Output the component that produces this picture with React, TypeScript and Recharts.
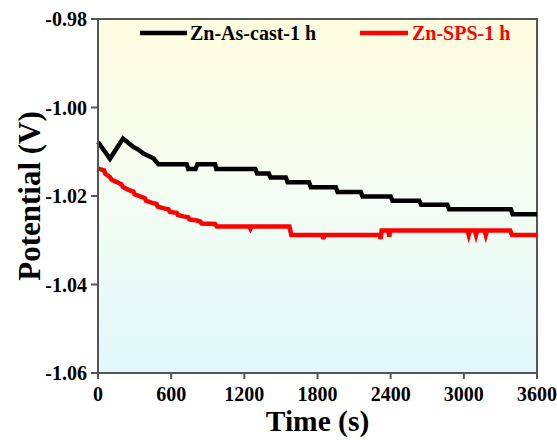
import React from "react";
import { LineChart, Line, XAxis, YAxis, ReferenceArea } from "recharts";

// Zn-As-cast-1 h (black)
const asCastTime = [
  0, 98, 205, 250, 290, 330, 372, 420, 454, 495, 727, 740, 800, 815, 960, 970,
  1290, 1305, 1400, 1415, 1540, 1555, 1730, 1745, 1950, 1965, 2155, 2170, 2400,
  2415, 2635, 2650, 2865, 2880, 3385, 3400, 3600,
];
const asCastPotential = [
  -1.0078, -1.0116, -1.007, -1.008, -1.0089, -1.0095, -1.0104, -1.011, -1.0115,
  -1.0128, -1.0128, -1.0139, -1.0139, -1.0128, -1.0128, -1.0139, -1.0139,
  -1.0149, -1.0149, -1.0158, -1.0158, -1.0169, -1.0169, -1.018, -1.018,
  -1.0191, -1.0191, -1.0201, -1.0201, -1.0211, -1.0211, -1.022, -1.022,
  -1.023, -1.023, -1.0241, -1.0241,
];

// Zn-SPS-1 h (red)
const spsTime = [
  0, 50, 60, 98, 110, 150, 193, 205, 250, 290, 300, 345, 385, 395, 440, 480,
  490, 540, 577, 590, 645, 655, 700, 740, 750, 800, 836, 850, 960, 975, 1240,
  1250, 1260, 1570, 1585, 1840, 1848, 1856, 2310, 2318, 2326, 2380, 2388, 2396,
  3030, 3040, 3050, 3090, 3100, 3110, 3170, 3180, 3190, 3380, 3395, 3600,
];
const spsPotential = [
  -1.0138, -1.0142, -1.015, -1.0157, -1.0163, -1.0168, -1.0174, -1.018,
  -1.0186, -1.019, -1.0196, -1.0201, -1.0205, -1.0211, -1.0215, -1.0218,
  -1.0224, -1.0228, -1.023, -1.0236, -1.0238, -1.0243, -1.0246, -1.0248,
  -1.0253, -1.0255, -1.0257, -1.0262, -1.0263, -1.0269, -1.0269, -1.0274,
  -1.0269, -1.0269, -1.0288, -1.0288, -1.0297, -1.0288, -1.0288, -1.0297,
  -1.0278, -1.0278, -1.0292, -1.0278, -1.0278, -1.0288, -1.0278, -1.0278,
  -1.0288, -1.0278, -1.0278, -1.0288, -1.0278, -1.0278, -1.0288, -1.0288,
];

const timeTicks = [0, 600, 1200, 1800, 2400, 3000, 3600];
const potentialTicks = [-1.06, -1.04, -1.02, -1.0, -0.98];

const seriesNames = ["Zn-As-cast-1 h", "Zn-SPS-1 h"];

const asCastData = asCastTime.map((t, i) => ({ time: t, potential: asCastPotential[i] }));
const spsData = spsTime.map((t, i) => ({ time: t, potential: spsPotential[i] }));

const font = "'Liberation Serif', 'Times New Roman', serif";
const tickStyle = { fill: "#000", fontSize: 20, fontWeight: "bold", fontFamily: font };
const axisColor = "#555";

const App = () => {
  return (
    <div style={{ position: "absolute", top: 0, left: 0, width: 557, height: 440 }}>
      <svg width={0} height={0} style={{ position: "absolute" }}>
        <defs>
          <linearGradient id="bgGrad" x1="0" y1="0" x2="0" y2="1">
            <stop offset="0%" stopColor="#fffde0" />
            <stop offset="50%" stopColor="#f4fdf3" />
            <stop offset="100%" stopColor="#e1f8fc" />
          </linearGradient>
        </defs>
      </svg>
      <LineChart
        width={557}
        height={440}
        margin={{ top: 19, right: 20, bottom: 0, left: 0 }}
      >
        <ReferenceArea
          x1={0}
          x2={3600}
          y1={-1.06}
          y2={-0.98}
          fill="url(#bgGrad)"
          fillOpacity={1}
          stroke={axisColor}
          strokeWidth={2}
        />
        <XAxis
          dataKey="time"
          type="number"
          domain={[0, 3600]}
          ticks={timeTicks}
          height={67}
          tickSize={6}
          tickMargin={8}
          tick={tickStyle}
          stroke={axisColor}
          strokeWidth={2}
          label={{
            value: "Time (s)",
            position: "insideBottom",
            offset: 9,
            style: { fill: "#000", fontSize: 29.5, fontWeight: "bold", fontFamily: font },
          }}
        />
        <YAxis
          type="number"
          domain={[-1.06, -0.98]}
          ticks={potentialTicks}
          width={98}
          tickSize={7}
          tickMargin={4}
          tick={tickStyle}
          tickFormatter={(v: number) => v.toFixed(2)}
          stroke={axisColor}
          strokeWidth={2}
          label={{
            value: "Potential (V)",
            angle: -90,
            position: "insideLeft",
            offset: 29,
            style: { fill: "#000", fontSize: 31, fontWeight: "bold", fontFamily: font, textAnchor: "middle" },
          }}
        />
        <Line
          data={asCastData}
          dataKey="potential"
          name={seriesNames[0]}
          stroke="#000"
          strokeWidth={4.5}
          dot={false}
          isAnimationActive={false}
        />
        <Line
          data={spsData}
          dataKey="potential"
          name={seriesNames[1]}
          stroke="#ff0000"
          strokeWidth={4.5}
          dot={false}
          isAnimationActive={false}
        />
      </LineChart>
      <svg
        width={557}
        height={440}
        style={{ position: "absolute", top: 0, left: 0, pointerEvents: "none" }}
      >
        <line x1={140} y1={33} x2={187} y2={33} stroke="#000" strokeWidth={4.5} />
        <text x={190} y={40} fontSize={20} fontWeight="bold" fontFamily={font} fill="#000">
          {seriesNames[0]}
        </text>
        <line x1={360} y1={33} x2={408} y2={33} stroke="#ff0000" strokeWidth={4.5} />
        <text x={412} y={40} fontSize={20} fontWeight="bold" fontFamily={font} fill="#ff0000">
          {seriesNames[1]}
        </text>
      </svg>
    </div>
  );
};

export default App;
